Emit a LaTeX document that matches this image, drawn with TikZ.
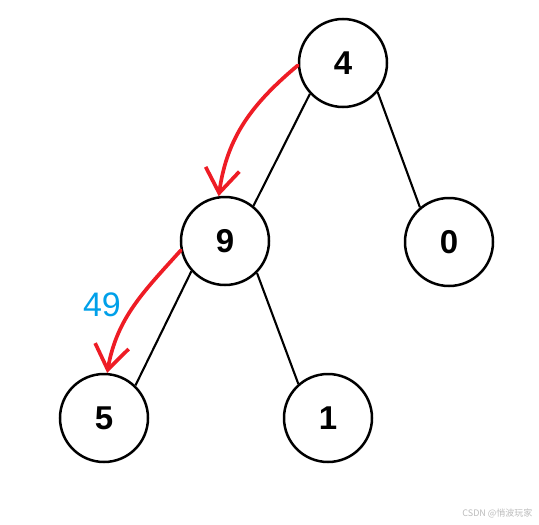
\documentclass[tikz,border=0pt]{standalone}
\usepackage{fontspec}
\setmainfont{Liberation Sans}
\newfontfamily\cjk{Noto Sans CJK SC}
\usepackage{xcolor}
\usetikzlibrary{arrows.meta}
\definecolor{penred}{HTML}{EE1C25}
\definecolor{labelblue}{HTML}{00A0E9}
\definecolor{markgray}{HTML}{BBBBBB}

\begin{document}
\begin{tikzpicture}[x=1pt,y=-1pt,
  nd/.style={draw,circle,line width=2.5pt,minimum size=88pt,inner sep=0pt,font=\fontsize{33}{33}\selectfont\bfseries},
  ed/.style={line width=2.1pt},
  rd/.style={-{Straight Barb[length=24pt,width=34pt]},line width=3.7pt,draw=penred,line cap=round}]
\useasboundingbox (0,0) rectangle (539,525);
\node[nd] (n4) at (343,63) {4};
\node[nd] (n9) at (225,241) {9};
\node[nd] (n0) at (449,242) {0};
\node[nd] (n5) at (104,418) {5};
\node[nd] (n1) at (328,418) {1};
\draw[ed] (n4.223) -- (n9.51);
\draw[ed] (n4.320) -- (n0.130);
\draw[ed] (n9.222) -- (n5.46);
\draw[ed] (n9.315) -- (n1.131);
\draw[rd] (n4.183) to[out=220,in=82] (n9.98);
\draw[rd] (n9.192) to[out=228,in=80] (n5.86);
\node[text=labelblue,font=\fontsize{34}{34}\selectfont] (lbl) at (102,305) {49};
\node[text=markgray,font=\cjk\fontsize{9}{9}\selectfont,anchor=east] (wm) at (536,513) {CSDN @悄波玩家};
\end{tikzpicture}
\end{document}
